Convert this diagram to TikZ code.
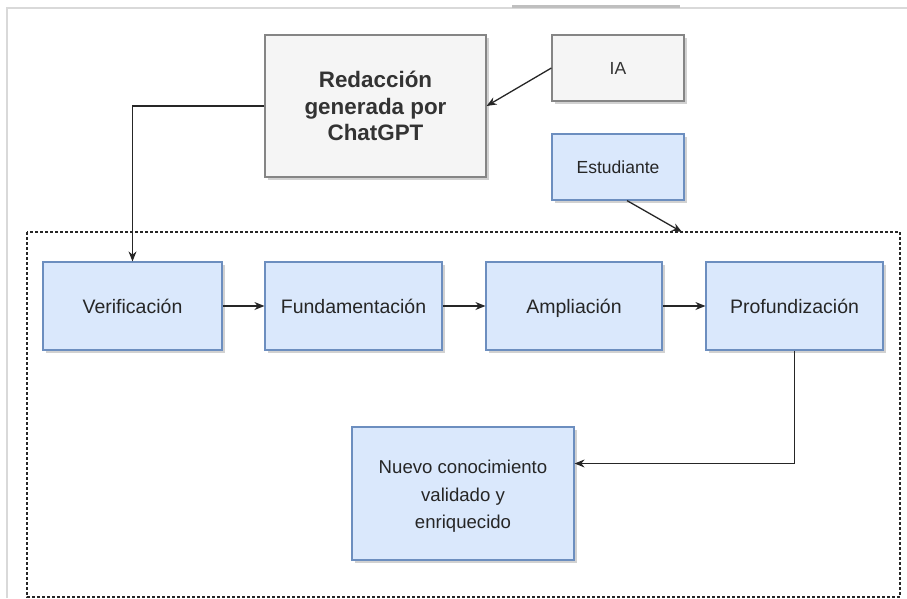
\documentclass[tikz,border=0pt]{standalone}
\usepackage{fontspec}
\setmainfont{Liberation Sans}
\usetikzlibrary{arrows.meta,shadows}
\definecolor{bluefill}{HTML}{DAE8FC}
\definecolor{blueedge}{HTML}{6C8EBF}
\definecolor{grayfill}{HTML}{F5F5F5}
\definecolor{grayedge}{HTML}{666666}
\definecolor{txt}{HTML}{333333}
\begin{document}
\begin{tikzpicture}[x=1pt,y=-1pt,
  shadowed/.style={drop shadow={shadow xshift=3pt,shadow yshift=-3pt,fill=black!30,opacity=0.6}},
  bluebox/.style={shadowed,draw=blueedge,fill=bluefill,line width=1.2pt,align=center,inner sep=0pt,text=black!85},
  graybox/.style={shadowed,draw=grayedge!80,fill=grayfill,line width=1.2pt,align=center,inner sep=0pt,text=txt},
  rowbox/.style={bluebox,minimum height=88pt,text height=18pt,text depth=4pt,font=\fontsize{19.5}{23}\selectfont},
  conn/.style={draw=black!85,line width=1.3pt,-{Stealth[length=10pt,width=8pt]}}]
\useasboundingbox (0,0) rectangle (907,598);
% outer screenshot frame
\draw[black!15,line width=1.5pt] (7,598) -- (7,8) -- (907,8);
\draw[black!25,line width=2.5pt] (512,6.5) -- (680,6.5);
% dashed region
\draw[black!85,line width=1.1pt,dash pattern=on 3pt off 2pt] (27,232) rectangle (900,597);
\coordinate (estend) at (682,232);
% nodes
\node[graybox,minimum width=221pt,minimum height=142pt,font=\bfseries\fontsize{22.4}{26.5}\selectfont] (red) at (375.5,106) {Redacción\\generada por\\ChatGPT};
\node[graybox,minimum width=132pt,minimum height=66pt,font=\fontsize{17.5}{21}\selectfont] (ia) at (618,68) {IA};
\node[bluebox,minimum width=132pt,minimum height=66pt,font=\fontsize{17.5}{21}\selectfont] (est) at (618,167) {Estudiante};
\node[rowbox,minimum width=179pt] (ver) at (132.5,306) {Verificación};
\node[rowbox,minimum width=177pt] (fun) at (353.5,306) {Fundamentación};
\node[rowbox,minimum width=176pt] (amp) at (574,306) {Ampliación};
\node[rowbox,minimum width=177pt] (pro) at (794.5,306) {Profundización};
\node[bluebox,minimum width=222pt,minimum height=133pt,font=\fontsize{18.6}{27.5}\selectfont] (nue) at (463,493.5) {\rule{0pt}{19pt}Nuevo conocimiento\\validado y\\enriquecido};
% connectors
\draw[conn] (ia.west) -- (red.east);
\draw[conn] ([xshift=9pt]est.south) -- (estend);
\draw[conn] (red.west) -| (ver.north);
\draw[conn] (ver) -- (fun);
\draw[conn] (fun) -- (amp);
\draw[conn] (amp) -- (pro);
\draw[conn] (pro.south) |- ([yshift=30pt]nue.east);
\end{tikzpicture}
\end{document}
